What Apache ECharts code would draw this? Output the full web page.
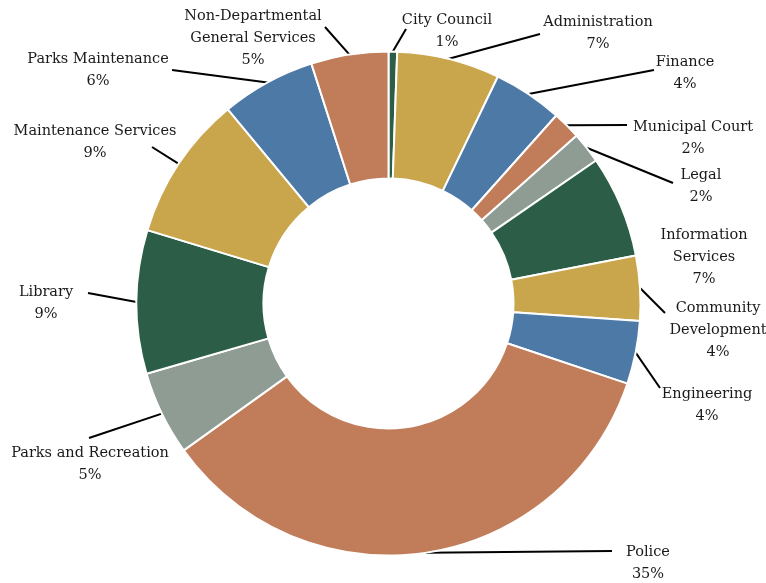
<!DOCTYPE html>
<html>
<head>
<meta charset="utf-8">
<script src="https://cdn.jsdelivr.net/npm/echarts@6/dist/echarts.min.js"></script>
<style>html,body{margin:0;padding:0;background:#fff}#c{width:766px;height:583px}</style>
</head>
<body>
<div id="c"></div>
<script>
// Data (percent share of total)
var categories = ['City Council','Administration','Finance','Municipal Court','Legal','Information\nServices','Community\nDevelopment','Engineering','Police','Parks and Recreation','Library','Maintenance Services','Parks Maintenance','Non-Departmental\nGeneral Services'];
var values = [0.55, 6.6, 4.45, 1.8, 2.0, 6.55, 4.15, 4.05, 34.95, 5.4, 9.2, 9.3, 6.05, 4.95];
var palette = ['#2C5E47','#C9A54C','#4D79A7','#C17C5A','#8E9C94'];

// Label layout (text block centre, leader-line end)
var labelLayoutCfg = [
  {x:447, y:31,  end:[406,29]},
  {x:598, y:33,  end:[540,34]},
  {x:685, y:73,  end:[654,70]},
  {x:693, y:138, end:[627,125]},
  {x:701, y:186, end:[673,183]},
  {x:704, y:257, end:null},
  {x:718, y:330, end:[665,313]},
  {x:707, y:405, end:[660,388]},
  {x:648, y:563, end:[612,551]},
  {x:90,  y:464, end:[89,438]},
  {x:46,  y:303, end:[88,293]},
  {x:95,  y:142, end:[152,147]},
  {x:98,  y:70,  end:[172,70]},
  {x:253, y:38,  end:[325,27]}
];

var total = values.reduce(function(a,b){return a+b;},0);
var data = categories.map(function(n,i){
  var d = {name:n, value:values[i]};
  if (!labelLayoutCfg[i].end) d.labelLine = {show:false};
  return d;
});

var chart = echarts.init(document.getElementById('c'));
chart.setOption({
  animation:false,
  color: palette,
  series:[{
    type:'pie',
    center:[388.5,303.5],
    radius:[125,252],
    startAngle:90,
    clockwise:true,
    avoidLabelOverlap:false,
    itemStyle:{borderColor:'#fff', borderWidth:2},
    label:{
      show:true,
      position:'outside',
      fontFamily:'DejaVu Serif',
      fontSize:14.5,
      lineHeight:22,
      color:'#1a1a1a',
      align:'center',
      formatter:function(p){ return p.name + '\n' + Math.round(p.value/total*100) + '%'; }
    },
    labelLine:{show:true, length:10, length2:0, lineStyle:{color:'#000', width:2}},
    emphasis:{disabled:true},
    labelLayout:function(p){
      var c = labelLayoutCfg[p.dataIndex];
      var o = {x:c.x, y:c.y, align:'center', verticalAlign:'middle', hideOverlap:false, moveOverlap:null};
      if (c.end && p.labelLinePoints) {
        o.labelLinePoints = [p.labelLinePoints[0], c.end];
      }
      return o;
    },
    data:data
  }]
});
</script>
</body>
</html>
